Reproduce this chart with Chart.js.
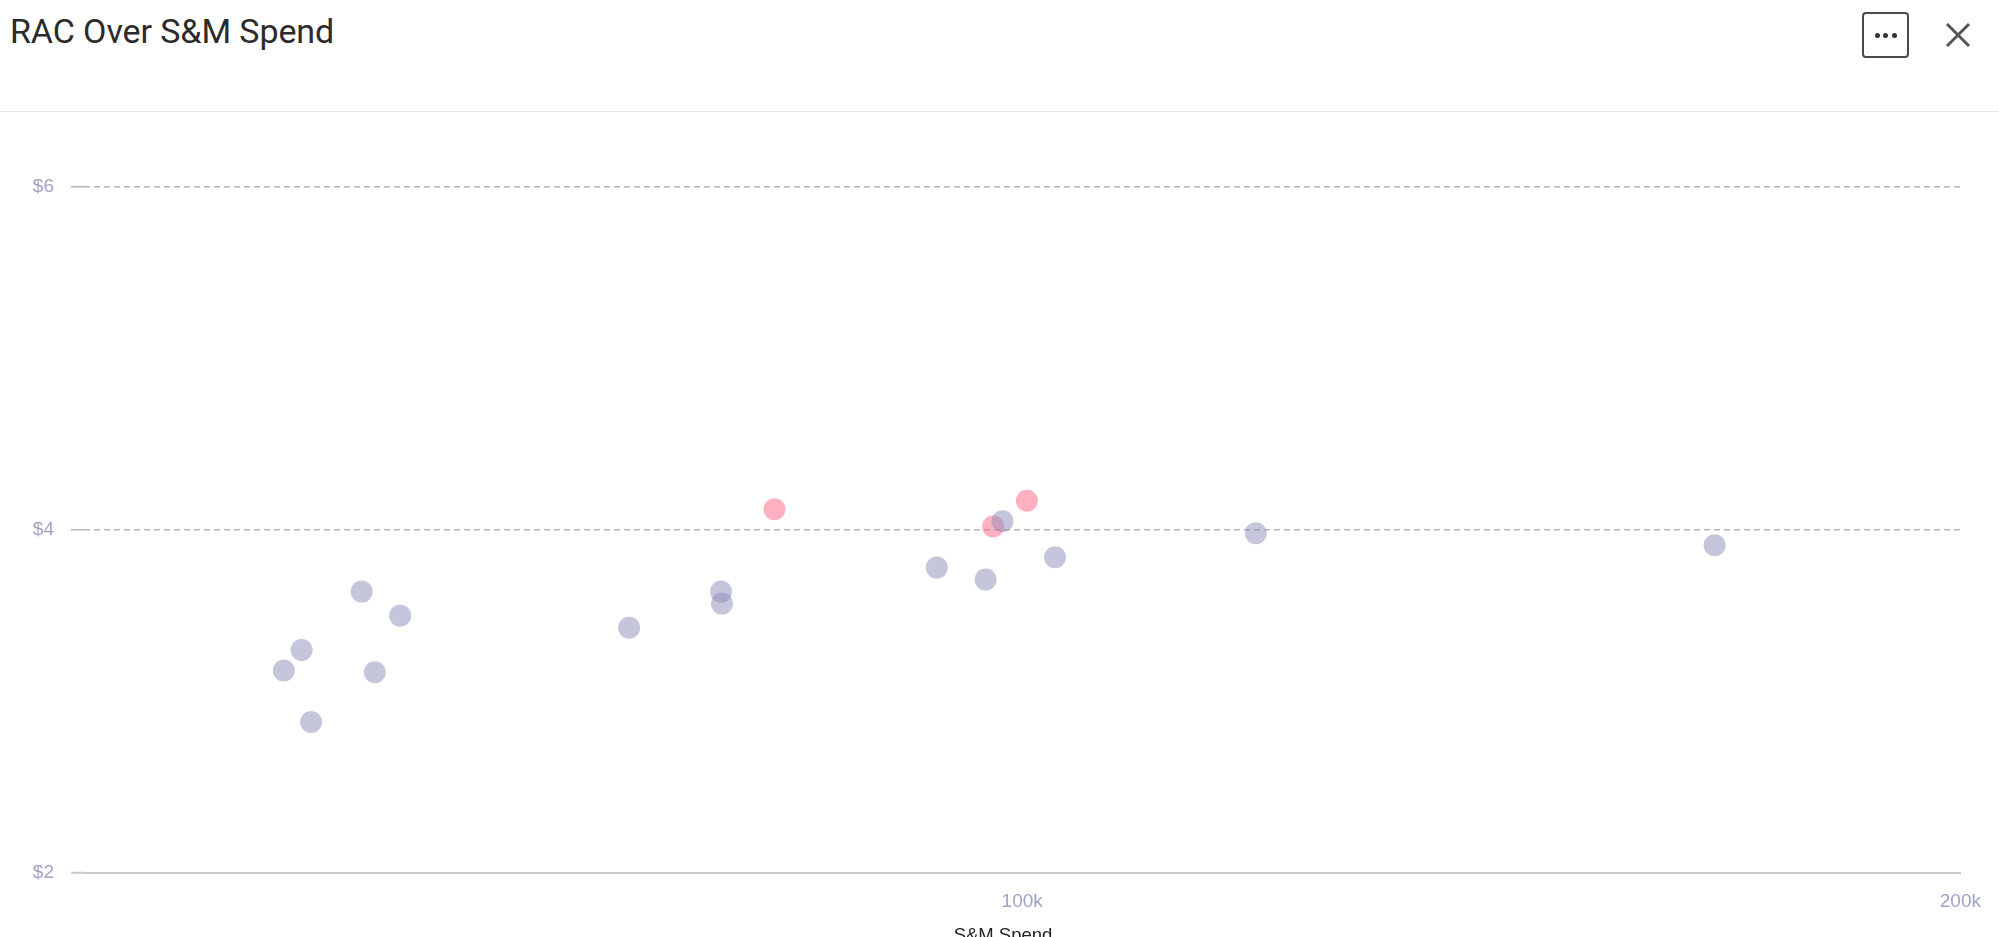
<!DOCTYPE html>
<html>
<head>
<meta charset="utf-8">
<script src="https://cdn.jsdelivr.net/npm/chart.js@4"></script>
<style>
  html, body { margin: 0; padding: 0; width: 1999px; height: 937px; overflow: hidden; background: #fff; }
  #hdr { position: absolute; left: 0; top: 0; width: 1999px; height: 111px; border-bottom: 1px solid #ebebeb; }
  #title { position: absolute; left: 10px; top: 11px; font-family: Roboto, "Liberation Sans", sans-serif; font-size: 34px; color: #2b2b2b; letter-spacing: -0.1px; }
  #more { position: absolute; left: 1862px; top: 12px; width: 43px; height: 42px; border: 2px solid #4a4a4a; border-radius: 4px; }
  #more span { position: absolute; top: 19px; width: 5px; height: 5px; border-radius: 50%; background: #333; }
  #close { position: absolute; left: 1944px; top: 21px; }
  #wrap { position: absolute; left: 0; top: 112px; width: 1999px; height: 845px; }
</style>
</head>
<body>
<div id="hdr">
  <div id="title">RAC Over S&amp;M Spend</div>
  <div id="more"><span style="left:11px"></span><span style="left:19px"></span><span style="left:28px"></span></div>
  <svg id="close" width="28" height="28" viewBox="0 0 28 28"><path d="M3 3 L25 25 M25 3 L3 25" stroke="#555" stroke-width="3" fill="none"/></svg>
</div>
<div id="wrap"><canvas id="c"></canvas></div>
<script>
// S&M spend ($) and RAC ($) for each account
const grayX = [21300, 23200, 24200, 29600, 31000, 33700, 58100, 67900, 68000, 90900, 96100, 97900, 103500, 124900, 173800];
const grayY = [3.18, 3.30, 2.88, 3.64, 3.17, 3.50, 3.43, 3.64, 3.57, 3.78, 3.71, 4.05, 3.84, 3.98, 3.91];
const pinkX = [73600, 96900, 100500];
const pinkY = [4.12, 4.02, 4.17];
const xTicks = [100000, 200000];
const yTicks = [2, 4, 6];
const xTitle = 'S&M Spend';

const toPts = (xs, ys) => xs.map((x, i) => ({ x: x, y: ys[i] }));
const dashPattern = [6, 4];
const tickFont = { family: '"Liberation Sans", Arial, sans-serif', size: 19 };

// centre the bottom title on the page rather than on the padded box
const titleShift = {
  id: 'titleShift',
  afterLayout(chart) { if (chart.titleBlock) { chart.titleBlock.left = 43; } }
};

new Chart(document.getElementById('c'), {
  type: 'scatter',
  data: {
    datasets: [
      { data: toPts(grayX, grayY), backgroundColor: 'rgba(140,140,186,0.5)', borderWidth: 0, pointRadius: 11, pointHoverRadius: 11 },
      { data: toPts(pinkX, pinkY), backgroundColor: 'rgba(255,99,132,0.5)', borderWidth: 0, pointRadius: 11, pointHoverRadius: 11 }
    ]
  },
  plugins: [titleShift],
  options: {
    responsive: true,
    maintainAspectRatio: false,
    animation: false,
    layout: { padding: { left: 0, right: 36, top: 75, bottom: 0 } },
    plugins: {
      legend: { display: false },
      tooltip: { enabled: false },
      title: {
        display: true, position: 'bottom', text: xTitle, color: '#222',
        font: { family: '"Liberation Sans", Arial, sans-serif', size: 18.5, weight: 'normal', lineHeight: 1.2 },
        padding: { top: 12, bottom: 10 }
      }
    },
    scales: {
      x: {
        type: 'linear', min: 0, max: 200000,
        afterBuildTicks: (s) => { s.ticks = [0].concat(xTicks).map(v => ({ value: v })); },
        afterFit: (s) => { s.height = 40; },
        grid: { display: false, drawTicks: false, tickLength: 0 },
        border: { display: true, color: '#c9c9c9', width: 2 },
        ticks: {
          padding: 18, color: '#a0a3c4', maxRotation: 0, font: tickFont,
          callback: (v) => v === 0 ? '' : (v / 1000) + 'k'
        }
      },
      y: {
        min: 2, max: 6,
        afterBuildTicks: (s) => { s.ticks = yTicks.map(v => ({ value: v })); },
        afterFit: (s) => { s.width = 84; },
        border: { display: false, dash: dashPattern },
        grid: {
          color: (ctx) => ctx.tick && ctx.tick.value === 2 ? 'rgba(0,0,0,0)' : '#b5b5b5',
          lineWidth: 1.5,
          drawTicks: true, tickLength: 13,
          tickColor: (ctx) => ctx.tick && ctx.tick.value === 2 ? '#c9c9c9' : '#b5b5b5',
          tickWidth: (ctx) => ctx.tick && ctx.tick.value === 2 ? 2 : 1.5
        },
        ticks: {
          padding: 17, color: '#a0a3c4', font: tickFont,
          callback: (v) => '$' + v
        }
      }
    }
  }
});
</script>
</body>
</html>
